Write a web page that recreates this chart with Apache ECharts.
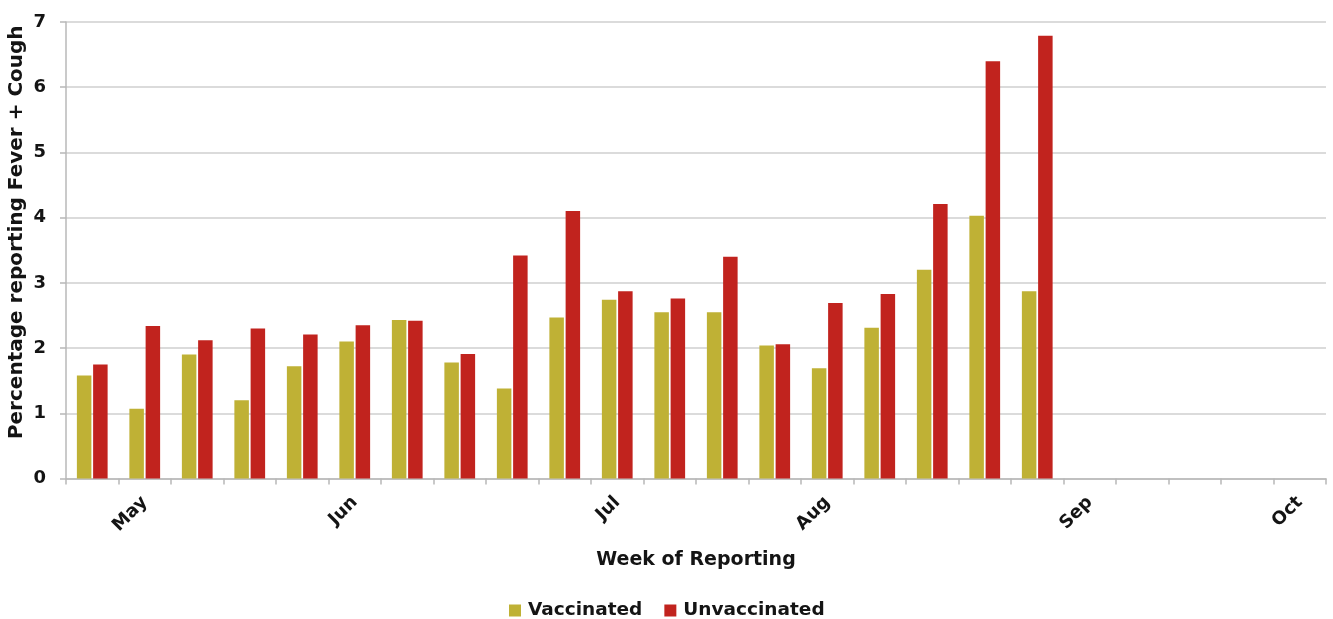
<!DOCTYPE html>
<html>
<head>
<meta charset="utf-8">
<script src="https://cdn.jsdelivr.net/npm/echarts@6/dist/echarts.min.js"></script>
<style>
html,body{margin:0;padding:0;background:#fff;}
#chart{width:1333px;height:619px;}
</style>
</head>
<body>
<div id="chart"></div>
<script>
// 24 weekly categories; month labels at the weeks where they appear
var weekLabels = ['', 'May', '', '', '', 'Jun', '', '', '', '', 'Jul', '', '', '', 'Aug', '', '', '', '', 'Sep', '', '', '', 'Oct'];
var vaccinated = [1.58, 1.07, 1.90, 1.20, 1.72, 2.10, 2.43, 1.78, 1.38, 2.47, 2.74, 2.55, 2.55, 2.04, 1.69, 2.31, 3.20, 4.03, 2.87];
var unvaccinated = [1.75, 2.34, 2.12, 2.30, 2.21, 2.35, 2.42, 1.91, 3.42, 4.10, 2.87, 2.76, 3.40, 2.06, 2.69, 2.83, 4.21, 6.40, 6.79];
var yTicks = [0, 1, 2, 3, 4, 5, 6, 7];

var FONT = '"DejaVu Sans"';
var TXT = '#141414';
var chart = echarts.init(document.getElementById('chart'), null, {renderer: 'canvas'});
chart.setOption({
  animation: false,
  grid: {left: 66, right: 7, top: 22, bottom: 140.5, containLabel: false, outerBoundsMode: 'none'},
  legend: {
    data: ['Vaccinated', 'Unvaccinated'],
    left: 504, top: 596,
    icon: 'rect', itemWidth: 12, itemHeight: 12, itemGap: 22, itemStyle: {borderWidth: 0},
    textStyle: {fontFamily: FONT, fontWeight: 'bold', fontSize: 18.5, color: TXT, padding: [0, 0, 0, 2]}
  },
  xAxis: {
    type: 'category',
    data: weekLabels,
    boundaryGap: true,
    name: 'Week of Reporting',
    nameLocation: 'middle',
    nameGap: 72,
    nameMoveOverlap: false,
    nameTextStyle: {fontFamily: FONT, fontWeight: 'bold', fontSize: 19, color: TXT},
    axisLine: {lineStyle: {color: '#b8b8b8', width: 1.5}},
    axisTick: {show: true, interval: 0, length: 6, lineStyle: {color: '#b8b8b8', width: 1.5}},
    axisLabel: {
      interval: 0, rotate: 45, margin: 21,
      fontFamily: FONT, fontWeight: 'bold', fontSize: 18, color: TXT
    }
  },
  yAxis: {
    type: 'value',
    min: 0, max: 7, interval: 1,
    name: 'Percentage reporting Fever + Cough',
    nameLocation: 'middle',
    nameGap: 39,
    nameMoveOverlap: false,
    nameTextStyle: {fontFamily: FONT, fontWeight: 'bold', fontSize: 20, color: TXT, padding: [0, 0, 0, 36]},
    axisLine: {show: true, lineStyle: {color: '#b8b8b8', width: 1.5}},
    axisTick: {show: true, length: 6, lineStyle: {color: '#b8b8b8', width: 1.5}},
    axisLabel: {
      margin: 20,
      fontFamily: FONT, fontWeight: 'bold', fontSize: 18, color: TXT,
      formatter: function (v) { return yTicks.indexOf(v) >= 0 ? String(v) : ''; }
    },
    splitLine: {lineStyle: {color: '#cfcfcf', width: 1.5}}
  },
  series: [
    {name: 'Vaccinated', type: 'bar', data: vaccinated, barWidth: 14.5, barGap: '12%',
     itemStyle: {color: '#bfb135'}},
    {name: 'Unvaccinated', type: 'bar', data: unvaccinated, barWidth: 14.5, barGap: '12%',
     itemStyle: {color: '#c1231e'}}
  ]
});
</script>
</body>
</html>
